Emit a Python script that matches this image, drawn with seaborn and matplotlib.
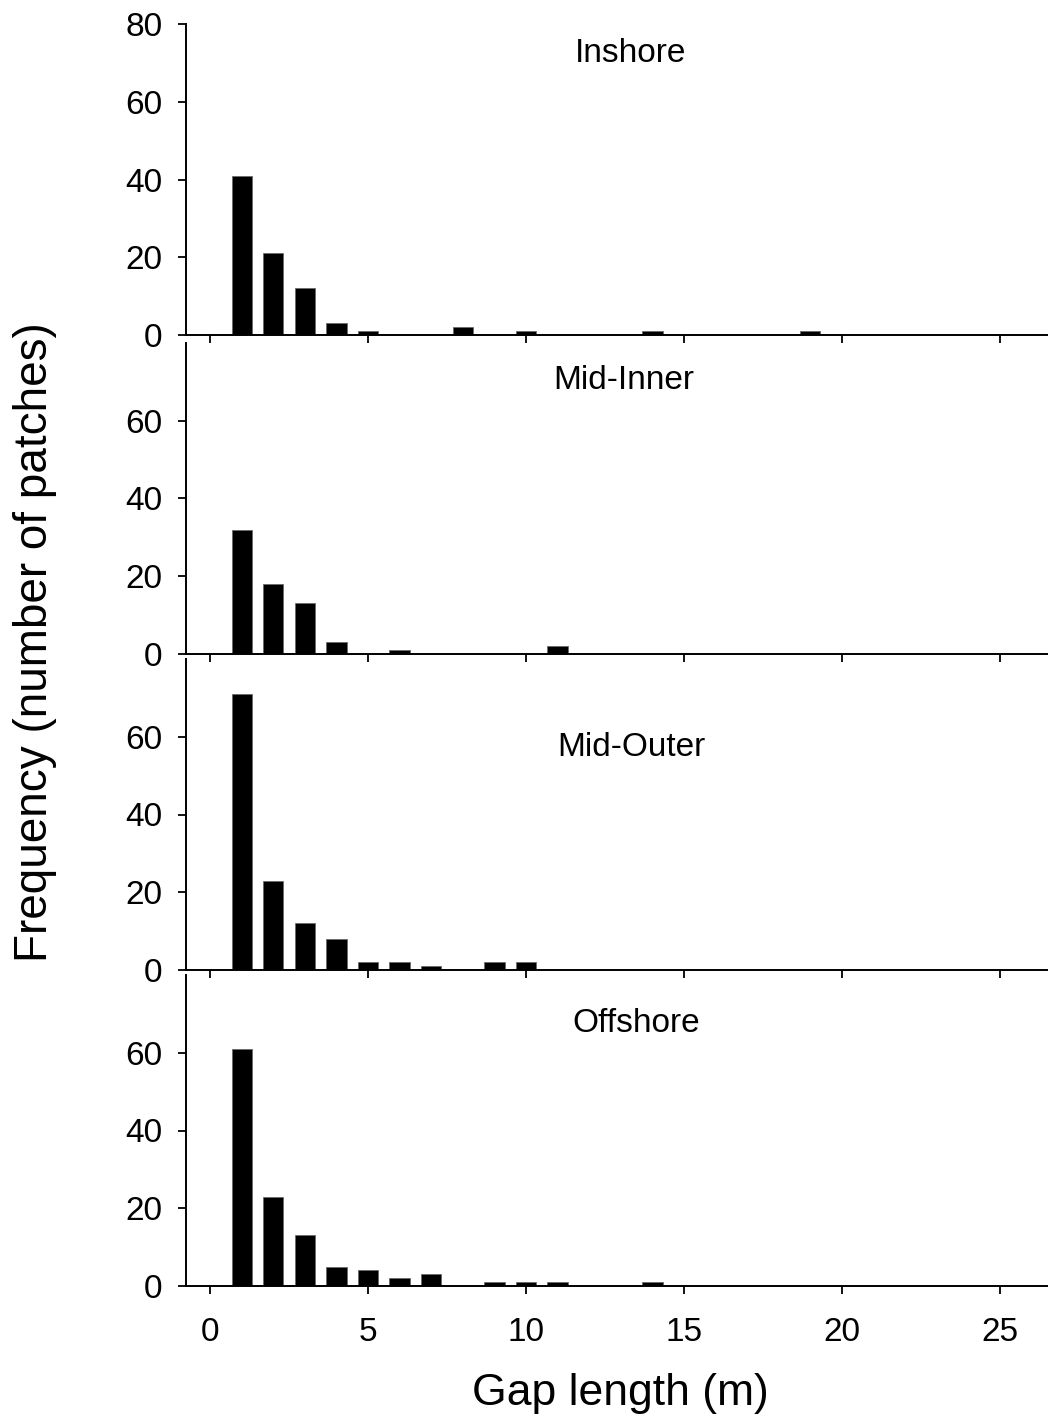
import matplotlib
matplotlib.use("Agg")
import matplotlib.pyplot as plt
import seaborn as sns
import pandas as pd

# Gap-length frequency per reef zone (gap length in m -> number of patches)
zones = ["Inshore", "Mid-Inner", "Mid-Outer", "Offshore"]

inshore_len = [1, 2, 3, 4, 5, 8, 10, 14, 19]
inshore_freq = [41, 21, 12, 3, 1, 2, 1, 1, 1]

mid_inner_len = [1, 2, 3, 4, 6, 11]
mid_inner_freq = [32, 18, 13, 3, 1, 2]

mid_outer_len = [1, 2, 3, 4, 5, 6, 7, 9, 10]
mid_outer_freq = [71, 23, 12, 8, 2, 2, 1, 2, 2]

offshore_len = [1, 2, 3, 4, 5, 6, 7, 9, 10, 11, 14]
offshore_freq = [61, 23, 13, 5, 4, 2, 3, 1, 1, 1, 1]

x_ticks = [0, 5, 10, 15, 20, 25]
y_ticks_top = [0, 20, 40, 60, 80]
y_ticks = [0, 20, 40, 60]

series = [
    (inshore_len, inshore_freq),
    (mid_inner_len, mid_inner_freq),
    (mid_outer_len, mid_outer_freq),
    (offshore_len, offshore_freq),
]
label_pos = [(13.3, 72.4), (13.1, 70.4), (13.35, 57.3), (13.5, 67.4)]

sns.set_style("ticks")
plt.rcParams["font.family"] = ["Liberation Sans", "DejaVu Sans"]
plt.rcParams["text.color"] = "black"
plt.rcParams["axes.labelcolor"] = "black"
plt.rcParams["axes.edgecolor"] = "black"

W, H = 1048, 1426
fig = plt.figure(figsize=(W / 100, H / 100), dpi=100)

left_px, right_px = 186, 1048
bottoms_px = [335, 654, 970, 1286]
panel_h = 311

axes = []
for i, (zone, (lens, freqs)) in enumerate(zip(zones, series)):
    b = bottoms_px[i]
    ax = fig.add_axes([left_px / W, 1 - b / H, (right_px - left_px) / W, panel_h / H])
    df = pd.DataFrame({"gap": lens, "freq": freqs})
    sns.barplot(data=df, x="gap", y="freq", native_scale=True, width=0.64,
                color="black", edgecolor="#6a6a6a", linewidth=0.6,
                saturation=1, ax=ax)
    ax.set_xlim(-0.76, 26.52)
    ax.set_ylim(0, 80)
    ax.set_xticks(x_ticks)
    ax.set_yticks(y_ticks_top if i == 0 else y_ticks)
    ax.set_xlabel("")
    ax.set_ylabel("")
    for s in ["top", "right"]:
        ax.spines[s].set_visible(False)
    for s in ["left", "bottom"]:
        ax.spines[s].set_linewidth(1.4)
        ax.spines[s].set_color("black")
    ax.tick_params(axis="both", direction="out", length=6, width=1.3,
                   labelsize=24, colors="black")
    ax.tick_params(axis="y", pad=11)
    ax.tick_params(axis="x", pad=16)
    if i < 3:
        ax.tick_params(axis="x", labelbottom=False)
    ax.patch.set_alpha(0)
    tx, ty = label_pos[i]
    ax.text(tx, ty, zone, ha="center", va="center", fontsize=24, color="black")
    axes.append(ax)

fig.text(35 / W, 1 - 642 / H, "Frequency (number of patches)", rotation=90,
         ha="center", va="center", fontsize=33, color="black")
fig.text(620 / W, 1 - 1394 / H, "Gap length (m)", ha="center", va="center",
         fontsize=32, color="black")

fig.savefig("out.png", dpi=100, facecolor="white")
